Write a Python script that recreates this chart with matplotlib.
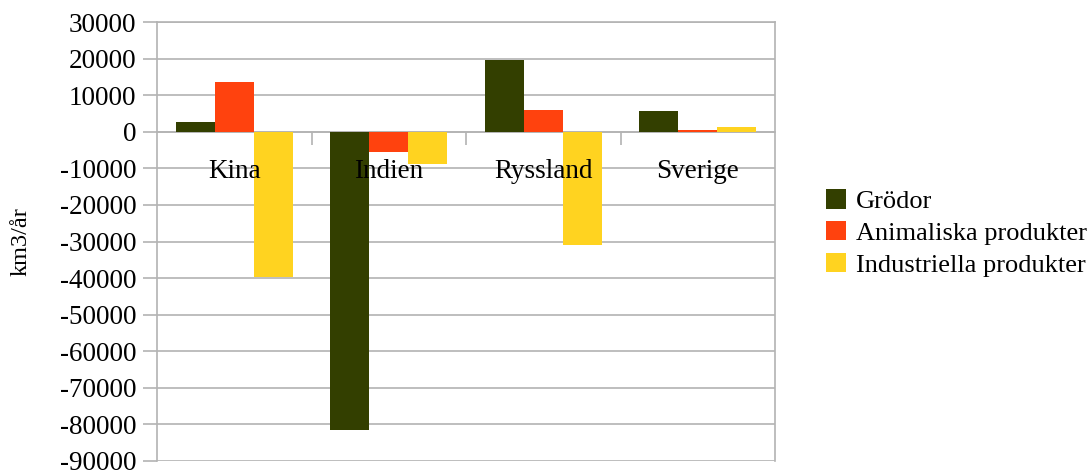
import matplotlib
matplotlib.use("Agg")
import matplotlib.pyplot as plt
import numpy as np
from matplotlib.patches import Patch

categories = ["Kina", "Indien", "Ryssland", "Sverige"]
series_names = ["Grödor", "Animaliska produkter", "Industriella produkter"]
grodor = [2700, -81500, 19600, 5700]
animaliska = [13600, -5500, 5900, 500]
industriella = [-39700, -8700, -31000, 1300]
colors = ["#333f00", "#ff420e", "#ffd320"]
yticks = list(range(-90000, 30001, 10000))

plt.rcParams['font.family'] = ['Liberation Serif', 'DejaVu Serif']
fig = plt.figure(figsize=(10.91, 4.70), dpi=100)
ax = fig.add_axes([157/1091, 1-461/470, (775-157)/1091, (461-22)/470])

grid_c = "#b3b3b3"
for v in yticks:
    ax.axhline(v, color=grid_c, linewidth=1.2, zorder=0.5)

x = np.arange(len(categories))
w = 0.252
for i, (vals, c) in enumerate(zip([grodor, animaliska, industriella], colors)):
    ax.bar(x + (i - 1) * w, vals, width=w, color=c, zorder=1, label=series_names[i])

ax.set_axisbelow(False)
ax.set_xlim(-0.5, 3.5)
ax.set_ylim(-90000, 30000)
ax.set_yticks(yticks)
ax.set_yticklabels([str(v) for v in yticks], fontsize=19.5)
ax.tick_params(axis='y', length=10, width=1.2, color=grid_c, pad=5)

for s in ax.spines.values():
    s.set_color(grid_c)
    s.set_linewidth(1.2)
    s.set_zorder(0.6)
ax.spines['bottom'].set_position(('data', 0))

ax.set_xticks([0.5, 1.5, 2.5])
ax.set_xticklabels([])
ax.set_xticks(x, minor=True)
ax.set_xticklabels(categories, minor=True, fontsize=19.5)
ax.tick_params(axis='x', which='major', length=9, width=1.2, color=grid_c, direction='out')
ax.tick_params(axis='x', which='minor', length=0, pad=19.5)

ax.set_ylabel("km3/år", fontsize=17.5, labelpad=20)

handles = [Patch(facecolor=c, edgecolor='none') for c in colors]
fig.legend(handles, series_names, loc='center left', bbox_to_anchor=(826/1091, 1-233/470),
           frameon=False, fontsize=19, handlelength=0.75, handleheight=0.75,
           handletextpad=0.4, labelspacing=0.3, borderaxespad=0, borderpad=0)

fig.savefig("out.png", dpi=100)
